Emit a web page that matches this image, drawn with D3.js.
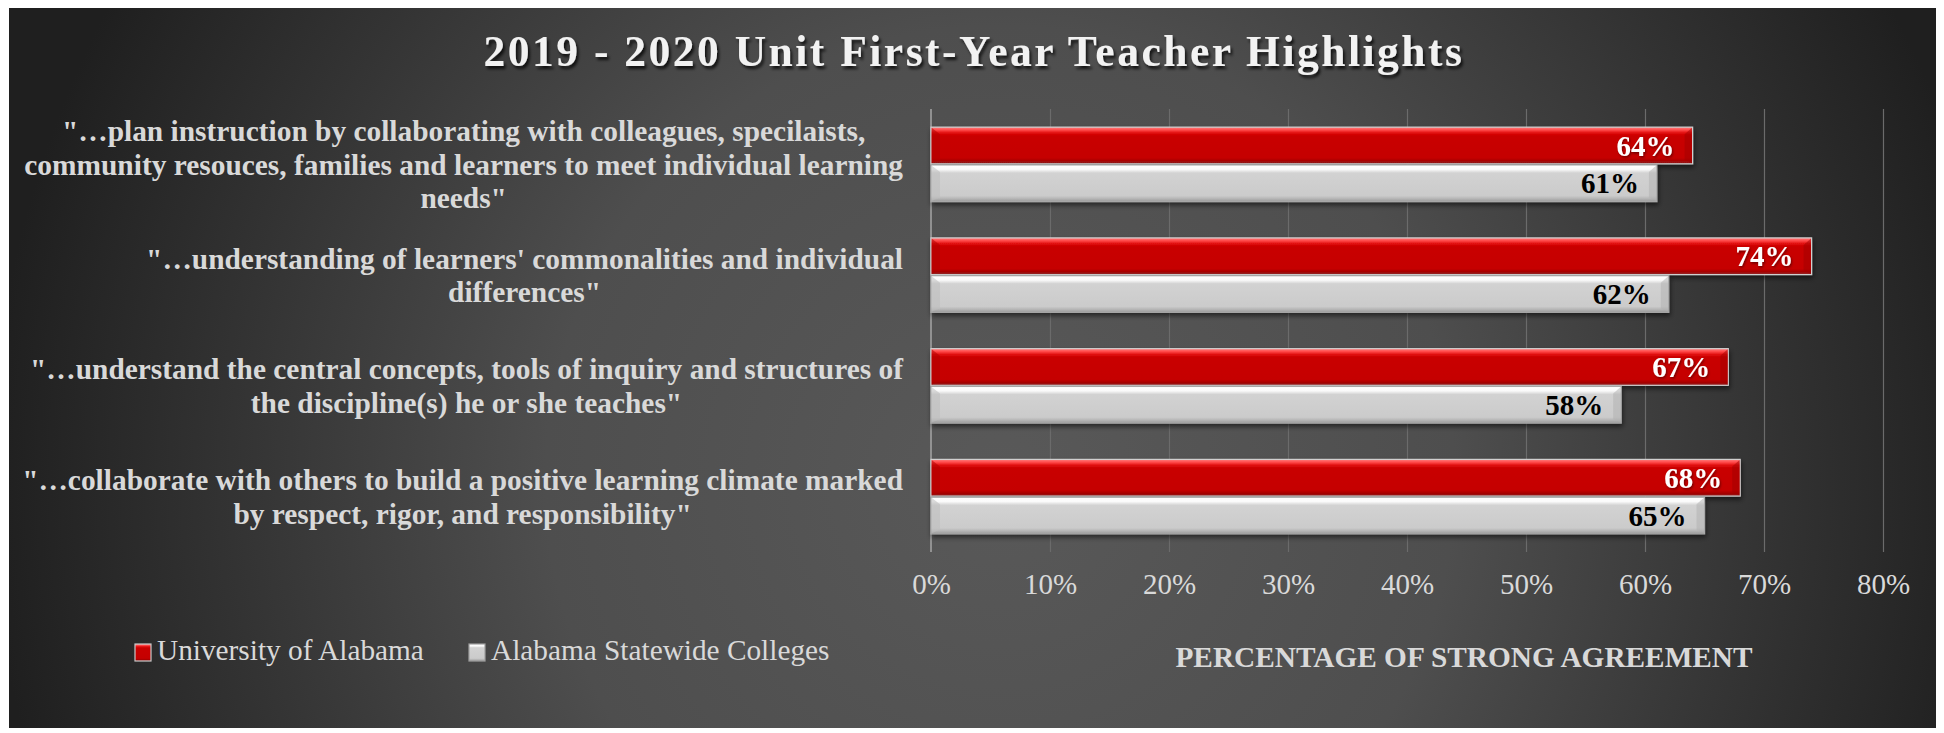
<!DOCTYPE html>
<html>
<head>
<meta charset="utf-8">
<script src="https://cdn.jsdelivr.net/npm/d3@7"></script>
<style>
  html, body { margin: 0; padding: 0; background: #ffffff; }
  svg { display: block; }
</style>
</head>
<body>
<svg id="chart" width="1944" height="733"></svg>
<script>
// ---------------- data ----------------
const titleText = "2019 - 2020 Unit First-Year Teacher Highlights";
const categories = [
  ["\"\u2026plan instruction by collaborating with colleagues, specilaists,",
   "community resouces, families and learners to meet individual learning",
   "needs\""],
  ["\"\u2026understanding of learners' commonalities and individual",
   "differences\""],
  ["\"\u2026understand the central concepts, tools of inquiry and structures of",
   "the discipline(s) he or she teaches\""],
  ["\"\u2026collaborate with others to build a positive learning climate marked",
   "by respect, rigor, and responsibility\""]
];
const seriesNames = ["University of Alabama", "Alabama Statewide Colleges"];
const universityValues = [0.64, 0.74, 0.67, 0.68];
const statewideValues  = [0.61, 0.62, 0.58, 0.65];
const tickValues = [0, 0.1, 0.2, 0.3, 0.4, 0.5, 0.6, 0.7, 0.8];
const axisTitle = "PERCENTAGE OF STRONG AGREEMENT";

// ---------------- setup ----------------
const FONT = "'Liberation Serif', 'Times New Roman', serif";
const svg = d3.select("#chart");
const defs = svg.append("defs");

// background radial gradient
const bg = defs.append("radialGradient").attr("id", "bgGrad")
  .attr("gradientUnits", "userSpaceOnUse")
  .attr("cx", 1000).attr("cy", 480).attr("r", 1010);
[[0, "#595959"], [0.45, "#4e4e4e"], [0.75, "#343434"], [1, "#1f1f1f"]]
  .forEach(([o, c]) => bg.append("stop").attr("offset", o).attr("stop-color", c));

// bar gradients
const redGrad = defs.append("linearGradient").attr("id", "redGrad")
  .attr("x1", 0).attr("y1", 0).attr("x2", 0).attr("y2", 1);
[[0, "#ff8080"], [0.08, "#ff4848"], [0.16, "#e00c0c"], [0.24, "#c90000"],
 [0.84, "#c50000"], [0.92, "#a80000"], [1, "#8c2020"]]
  .forEach(([o, c]) => redGrad.append("stop").attr("offset", o).attr("stop-color", c));
const grayGrad = defs.append("linearGradient").attr("id", "grayGrad")
  .attr("x1", 0).attr("y1", 0).attr("x2", 0).attr("y2", 1);
[[0, "#ffffff"], [0.12, "#fafafa"], [0.22, "#d2d2d2"], [0.84, "#cbcbcb"],
 [0.92, "#b5b5b5"], [1, "#9a9a9a"]]
  .forEach(([o, c]) => grayGrad.append("stop").attr("offset", o).attr("stop-color", c));

// filters
const sh = defs.append("filter").attr("id", "barShadow")
  .attr("x", "-5%").attr("y", "-30%").attr("width", "110%").attr("height", "170%");
sh.append("feDropShadow").attr("dx", 1).attr("dy", 3).attr("stdDeviation", 2.5)
  .attr("flood-color", "#000").attr("flood-opacity", 0.55);
const tsh = defs.append("filter").attr("id", "titleShadow")
  .attr("x", "-5%").attr("y", "-30%").attr("width", "110%").attr("height", "170%");
tsh.append("feDropShadow").attr("dx", 2).attr("dy", 3).attr("stdDeviation", 1.5)
  .attr("flood-color", "#000").attr("flood-opacity", 0.75);
const lsh = defs.append("filter").attr("id", "labelShadow")
  .attr("x", "-10%").attr("y", "-30%").attr("width", "120%").attr("height", "170%");
lsh.append("feDropShadow").attr("dx", 1).attr("dy", 1.5).attr("stdDeviation", 1)
  .attr("flood-color", "#000").attr("flood-opacity", 0.45);

// background
svg.append("rect").attr("x", 0).attr("y", 0).attr("width", 1944).attr("height", 733).attr("fill", "#ffffff");
svg.append("rect").attr("x", 9).attr("y", 8).attr("width", 1927).attr("height", 720).attr("fill", "url(#bgGrad)");

// title
svg.append("text")
  .attr("x", 974).attr("y", 66)
  .attr("text-anchor", "middle")
  .attr("font-family", FONT).attr("font-weight", "bold").attr("font-size", 43.5)
  .attr("letter-spacing", 2.5)
  .attr("fill", "#f2f2f2")
  .attr("filter", "url(#titleShadow)")
  .text(titleText);

// scales
const plotTop = 109, plotBottom = 552;
const x = d3.scaleLinear().domain([0, 0.8]).range([931, 1883]);
const catIdx = d3.range(categories.length);
const y = d3.scaleBand().domain(catIdx).range([plotTop, plotBottom]).padding(0);
const ySub = d3.scaleBand().domain(seriesNames).range([0, y.bandwidth()])
  .paddingInner(0.03).paddingOuter(0.48);

// gridlines
const grid = svg.append("g").attr("transform", `translate(0,${plotBottom})`)
  .call(d3.axisBottom(x).tickValues(tickValues.slice(1)).tickSize(-(plotBottom - plotTop)).tickFormat(""));
grid.select(".domain").remove();
grid.selectAll(".tick line").attr("stroke", "#6b6b6b").attr("stroke-width", 1.2);

// vertical axis line at 0
svg.append("line").attr("x1", x(0)).attr("x2", x(0)).attr("y1", plotTop).attr("y2", plotBottom)
  .attr("stroke", "#a6a6a6").attr("stroke-width", 1.5);

// tick labels
const xAxis = svg.append("g").attr("transform", `translate(0,${plotBottom - 1})`)
  .call(d3.axisBottom(x).tickValues(tickValues).tickSize(0).tickPadding(22).tickFormat(d3.format(".0%")));
xAxis.select(".domain").remove();
xAxis.selectAll("text").attr("font-family", FONT).attr("font-size", 29).attr("fill", "#d9d9d9");

// axis title
svg.append("text").attr("x", 1464).attr("y", 667).attr("text-anchor", "middle")
  .attr("font-family", FONT).attr("font-weight", "bold").attr("font-size", 29.3).attr("fill", "#d9d9d9")
  .text(axisTitle);

// bars
const seriesData = [
  { name: seriesNames[0], values: universityValues, fill: "url(#redGrad)", stroke: "#d0d0d0", label: "#ffffff" },
  { name: seriesNames[1], values: statewideValues, fill: "url(#grayGrad)", stroke: "#a8a8a8", label: "#000000" }
];
const barsG = svg.append("g");
seriesData.forEach(s => {
  const g = barsG.append("g");
  g.selectAll("rect").data(s.values).join("rect")
    .attr("x", x(0))
    .attr("y", (d, i) => y(i) + ySub(s.name))
    .attr("width", d => x(d) - x(0))
    .attr("height", ySub.bandwidth())
    .attr("fill", s.fill)
    .attr("stroke", s.stroke).attr("stroke-width", 1.2)
    .attr("filter", "url(#barShadow)");
  // left bevel
  g.selectAll("path.bevel").data(s.values).join("path").attr("class", "bevel")
    .attr("d", (d, i) => {
      const y0 = y(i) + ySub(s.name), h = ySub.bandwidth(), x0 = x(0);
      return `M${x0 + 0.6},${y0 + 0.6} L${x0 + 9},${y0 + 7} L${x0 + 9},${y0 + h - 4} L${x0 + 0.6},${y0 + h - 0.6} Z`;
    })
    .attr("fill", s.name === seriesNames[0] ? "#b00000" : "#bdbdbd").attr("opacity", 0.55);
  // right bevel
  g.selectAll("path.rbevel").data(s.values).join("path").attr("class", "rbevel")
    .attr("d", (d, i) => {
      const y0 = y(i) + ySub(s.name), h = ySub.bandwidth(), x1 = x(d);
      return `M${x1 - 0.6},${y0 + 0.6} L${x1 - 8},${y0 + 7} L${x1 - 8},${y0 + h - 4} L${x1 - 0.6},${y0 + h - 0.6} Z`;
    })
    .attr("fill", s.name === seriesNames[0] ? "#a00000" : "#b0b0b0").attr("opacity", 0.5);
  // data labels
  g.selectAll("text").data(s.values).join("text")
    .attr("x", d => x(d) - 18)
    .attr("y", (d, i) => y(i) + ySub(s.name) + ySub.bandwidth() / 2)
    .attr("dy", "0.35em")
    .attr("text-anchor", "end")
    .attr("font-family", FONT).attr("font-weight", "bold").attr("font-size", 29)
    .attr("fill", s.label)
    .attr("filter", s.label === "#ffffff" ? "url(#labelShadow)" : null)
    .text(d => d3.format(".0%")(d));
});

// category labels (lines centered within block, block right-aligned)
const labelRight = 903, lineH = 33.5;
const catG = svg.append("g");
categories.forEach((lines, i) => {
  const g = catG.append("g");
  const cy = y(i) + y.bandwidth() / 2;
  const texts = lines.map((ln, k) => g.append("text")
    .attr("y", cy + (k - (lines.length - 1) / 2) * lineH)
    .attr("dy", "0.35em")
    .attr("text-anchor", "middle")
    .attr("font-family", FONT).attr("font-weight", "bold").attr("font-size", 29.4)
    .attr("fill", "#d9d9d9")
    .text(ln));
  const maxW = d3.max(texts, t => t.node().getComputedTextLength());
  texts.forEach(t => t.attr("x", labelRight - maxW / 2));
});

// legend
const legend = svg.append("g");
const legendItems = [
  { name: seriesNames[0], fill: "url(#redGrad)", stroke: "#c8c8c8", mx: 135 },
  { name: seriesNames[1], fill: "url(#grayGrad)", stroke: "#a0a0a0", mx: 469 }
];
legendItems.forEach(it => {
  legend.append("rect").attr("x", it.mx).attr("y", 644).attr("width", 16).attr("height", 17)
    .attr("fill", it.fill).attr("stroke", it.stroke).attr("stroke-width", 1.2);
  legend.append("text").attr("x", it.mx + 22).attr("y", 660)
    .attr("font-family", FONT).attr("font-size", 29.3).attr("fill", "#d9d9d9")
    .text(it.name);
});
</script>
</body>
</html>
